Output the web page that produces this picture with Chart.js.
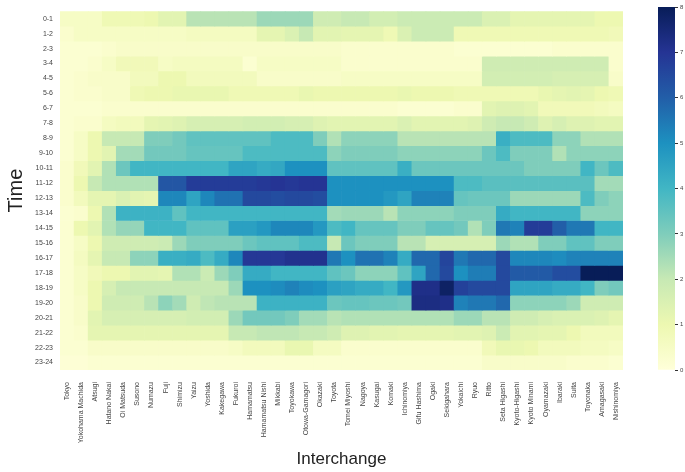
<!DOCTYPE html>
<html>
<head>
<meta charset="utf-8">
<script src="https://cdn.jsdelivr.net/npm/chart.js@4.4.1/dist/chart.umd.min.js"></script>
<style>
	body { margin: 0; background: #fff; }
	#wrap { position: relative; width: 685px; height: 472px; overflow: hidden; }
	#heat { position: absolute; left: 0; top: 0; }
	#bar { position: absolute; left: 640px; top: 0; }
</style>
</head>
<body>
<div id="wrap">
	<canvas id="heat" width="640" height="472"></canvas>
	<canvas id="bar" width="45" height="472"></canvas>
</div>
<script>
var interchanges = ['Tokyo', 'Yokohama Machida', 'Atsugi', 'Hatano Nakai', 'Oi Matsuda', 'Susono', 'Numazu', 'Fuji',
	'Shimizu', 'Yaizu', 'Yoshida', 'Kakegawa', 'Fukuroi', 'Hamamatsu', 'Hamamatsu Nishi', 'Mikkabi', 'Toyokawa',
	'Otowa-Gamagori', 'Okazaki', 'Toyota', 'Tomei Miyoshi', 'Nagoya', 'Kasugai', 'Komaki', 'Ichinomiya', 'Gifu Hashima',
	'Ogaki', 'Sekigahara', 'Yokaichi', 'Ryuo', 'Ritto', 'Seta Higashi', 'Kyoto-Higashi', 'Kyoto Minami', 'Oyamazaki',
	'Ibaraki', 'Suita', 'Toyonaka', 'Amagasaki', 'Nishinomiya'];

var timeSlots = ['0-1', '1-2', '2-3', '3-4', '4-5', '5-6', '6-7', '7-8', '8-9', '9-10', '10-11', '11-12',
	'12-13', '13-14', '14-15', '15-16', '16-17', '17-18', '18-19', '19-20', '20-21', '21-22', '22-23', '23-24'];

// one row per time slot, one value per interchange
var traffic = [
	[0.5,0.5,0.5,0.9,0.9,0.9,1.0,1.3,1.3,2.2,2.2,2.2,2.2,2.2,2.6,2.6,2.6,2.6,1.8,1.8, 2.0,2.0,1.7,1.7,1.9,1.9,1.9,1.9,1.9,1.9, 1.5,1.5,1.2,1.2,1.2,1.2,1.2,1.2,1.0,1.0],
	[0.3,0.5,0.5,0.5,0.5,0.5,0.5,0.5,0.5,0.6,0.6,0.6,0.6,0.6,1.2,1.2,1.5,2.0,1.3,1.3, 1.2,1.2,1.2,0.9,1.5,1.9,1.9,1.9,0.9,0.9, 0.9,0.9,0.9,0.9,0.9,0.9,0.9,0.9,0.9,0.8],
	[0.2,0.2,0.2,0.3,0.4,0.4,0.4,0.4,0.4,0.4,0.4,0.4,0.4,0.4,0.4,0.4,0.4,0.4,0.4,0.4, 0.3,0.3,0.3,0.3,0.3,0.3,0.3,0.3,0.2,0.2, 0.2,0.2,0.2,0.2,0.2,0.3,0.3,0.3,0.3,0.3],
	[0.2,0.2,0.3,0.5,0.8,0.8,0.8,0.5,0.6,0.6,0.6,0.6,0.6,0.2,0.5,0.5,0.5,0.5,0.5,0.5, 0.3,0.3,0.3,0.3,0.3,0.3,0.3,0.3,0.3,0.3, 1.8,1.8,1.8,1.8,1.8,1.8,1.8,1.8,1.8,0.3],
	[0.2,0.3,0.4,0.4,0.4,0.7,0.7,1.0,1.0,0.7,0.7,0.7,0.7,0.7,0.4,0.4,0.4,0.4,0.4,0.4, 0.5,0.5,0.5,0.5,0.5,0.5,0.5,0.5,0.5,0.5, 1.7,1.7,1.7,1.7,1.7,1.6,1.6,1.6,1.6,0.4],
	[0.2,0.3,0.3,0.4,0.4,0.9,1.0,1.0,1.1,1.1,1.1,1.1,0.9,0.9,0.9,0.9,0.9,1.1,1.0,1.0, 1.0,1.0,1.0,1.0,1.1,1.0,1.0,1.0,0.9,0.9, 0.9,0.9,0.9,0.9,1.1,1.2,1.3,1.2,1.0,0.9],
	[0.2,0.2,0.2,0.3,0.3,0.3,0.3,0.3,0.3,0.3,0.3,0.3,0.3,0.3,0.3,0.3,0.3,0.3,0.3,0.3, 0.3,0.3,0.3,0.3,0.2,0.2,0.2,0.2,0.3,0.3, 1.3,1.4,1.4,1.3,0.8,0.8,0.8,0.8,0.7,0.6],
	[0.2,0.3,0.3,0.6,0.7,0.7,1.2,1.3,1.4,1.6,1.6,1.6,1.6,1.7,1.7,1.7,1.6,1.6,1.4,1.3, 1.3,1.3,1.3,1.3,1.5,1.3,1.3,1.3,1.3,1.4, 1.8,2.0,2.0,1.8,1.4,1.6,1.4,1.4,1.3,1.3],
	[0.2,0.5,1.0,2.0,2.0,2.0,3.0,3.0,3.2,3.5,3.5,3.5,3.5,3.5,3.5,3.8,3.8,3.8,3.0,2.3, 2.8,2.8,2.8,2.8,2.2,2.2,2.2,2.2,2.2,2.2, 2.2,4.2,3.8,3.8,3.8,2.8,2.8,2.3,2.3,2.3],
	[0.2,0.5,1.0,1.3,2.5,2.5,3.2,3.2,3.2,3.4,3.4,3.4,3.4,3.8,3.8,3.8,3.8,3.8,3.8,2.8, 3.0,3.0,3.0,3.0,2.8,2.8,2.8,2.8,2.8,2.8, 3.3,3.8,3.0,3.0,3.0,2.3,2.8,2.8,2.8,2.8],
	[0.3,0.8,1.3,2.3,3.3,4.0,4.0,4.0,4.0,4.0,4.0,4.0,4.5,4.5,4.3,4.4,5.0,5.0,5.0,3.5, 3.5,3.5,3.5,3.5,4.2,3.3,3.3,3.3,3.3,3.3, 3.3,3.3,3.3,3.0,3.0,3.0,3.0,4.0,3.3,3.8],
	[0.3,1.0,2.0,2.3,2.3,2.3,2.3,6.2,6.2,6.8,6.8,6.8,6.8,6.8,6.9,7.0,6.9,7.0,7.0,5.0, 5.0,5.0,5.0,5.0,5.0,5.0,5.0,5.0,3.8,3.8, 3.6,3.6,3.6,3.6,3.6,3.6,3.6,3.6,2.5,2.5],
	[0.3,0.7,1.2,1.2,1.5,1.3,1.2,5.2,5.2,4.5,5.2,5.6,5.6,6.5,6.5,6.4,6.5,6.5,6.4,5.0, 5.0,5.0,5.0,4.8,4.5,5.3,5.3,5.3,3.4,3.3, 3.3,3.3,2.6,2.6,2.6,2.6,2.6,3.8,3.0,2.8],
	[0.2,0.3,1.0,2.3,4.1,4.1,4.1,4.1,3.5,4.0,4.0,4.0,4.0,4.0,4.0,4.0,4.0,4.0,4.0,2.5, 2.6,2.6,2.6,2.2,2.8,2.8,2.8,2.8,3.0,3.0, 3.0,4.3,4.0,4.0,4.0,4.0,4.0,2.8,2.8,2.8],
	[0.2,1.0,1.3,2.3,2.7,2.7,4.0,4.0,4.0,3.5,3.5,3.5,4.6,4.6,4.8,5.2,5.2,5.2,4.8,3.8, 4.0,3.4,3.4,3.4,3.0,3.0,3.4,3.4,3.2,2.3, 3.0,5.5,5.3,6.8,6.8,6.0,5.5,5.5,4.0,4.0],
	[0.2,0.5,1.0,1.8,1.8,1.8,1.8,1.9,2.6,3.0,3.0,3.0,3.0,3.3,3.5,3.5,3.5,3.8,3.8,2.0, 3.3,3.0,3.0,3.0,2.2,2.2,1.6,1.6,1.6,1.6, 1.6,2.6,2.3,2.3,3.0,3.0,3.5,3.5,3.0,3.0],
	[0.2,0.6,1.2,2.0,2.0,2.8,2.8,4.2,4.2,4.3,3.8,4.3,5.2,6.9,6.9,6.9,7.1,7.1,7.1,5.5, 5.0,5.6,5.6,5.3,4.3,5.8,5.8,6.6,5.5,5.8, 5.8,6.5,5.2,5.2,5.2,5.1,5.3,5.3,5.3,5.3],
	[0.2,0.5,0.8,1.0,1.0,1.3,1.3,1.2,2.3,2.3,1.9,2.6,3.0,4.3,4.3,4.0,4.0,4.0,4.0,3.5, 3.3,2.8,2.8,2.8,3.5,4.5,5.8,6.5,5.0,5.4, 5.4,6.5,6.1,6.1,6.1,6.4,6.4,8.0,8.0,8.0],
	[0.2,0.5,1.0,1.6,2.0,2.0,2.0,2.0,2.0,2.0,2.0,2.0,2.6,5.0,5.0,5.1,5.3,5.1,5.0,4.6, 4.5,4.3,4.3,4.0,4.8,7.2,7.2,7.8,6.7,6.5, 6.5,6.5,4.5,4.5,4.5,4.3,4.3,4.0,3.0,3.2],
	[0.2,0.4,1.0,1.8,1.8,1.8,2.2,2.8,2.5,1.8,2.1,2.2,2.2,2.2,4.1,4.1,4.1,4.1,4.1,3.3, 3.4,3.4,3.3,3.3,3.2,7.3,7.3,7.2,5.3,5.5, 5.5,5.8,2.8,2.8,2.8,2.8,2.6,1.8,1.8,1.8],
	[0.2,0.4,1.3,1.6,1.6,1.6,1.6,1.6,1.6,1.7,1.7,1.7,2.6,3.2,3.2,3.2,3.0,2.5,2.5,2.2, 2.3,2.3,2.3,2.3,2.3,2.3,2.3,2.3,2.6,2.6, 2.2,2.2,1.8,1.8,1.6,1.5,1.5,1.5,1.4,1.2],
	[0.2,0.3,1.2,1.2,1.2,1.2,1.2,1.2,1.2,1.2,1.2,1.2,2.0,2.0,2.1,2.1,2.1,2.0,2.0,1.8, 1.4,1.4,1.3,1.3,1.2,1.2,1.2,1.2,1.3,1.3, 1.4,1.9,1.3,1.3,1.2,1.2,1.0,0.7,0.7,0.7],
	[0.2,0.2,0.4,0.4,0.4,0.4,0.4,0.4,0.4,0.4,0.4,0.4,0.5,0.7,0.7,0.7,1.1,1.1,0.6,0.6, 0.3,0.3,0.3,0.3,0.3,0.3,0.3,0.3,0.3,0.3, 0.8,1.1,1.1,1.0,0.7,0.7,0.7,0.6,0.6,0.5],
	[0.1,0.1,0.2,0.2,0.2,0.2,0.2,0.2,0.2,0.2,0.2,0.2,0.2,0.2,0.2,0.2,0.2,0.2,0.2,0.2, 0.2,0.2,0.2,0.2,0.2,0.2,0.2,0.2,0.2,0.2, 0.4,0.4,0.4,0.4,0.4,0.4,0.3,0.3,0.3,0.2]
];

var colorbarTicks = [0, 1, 2, 3, 4, 5, 6, 7, 8];
var vmax = 8;

// YlGnBu stops, light to dark
var palette = [[255,255,217],[237,248,177],[199,233,180],[127,205,187],[65,182,196],[29,145,192],[34,94,168],[37,52,148],[8,29,88]];

function cellColor(v) {
	var t = Math.max(0, Math.min(vmax, v)) / vmax * (palette.length - 1);
	var i = Math.min(Math.floor(t), palette.length - 2);
	var f = t - i;
	var c = palette[i].map(function(a, k) {
		return Math.round(a + (palette[i + 1][k] - a) * f);
	});
	return 'rgb(' + c.join(',') + ')';
}

Chart.defaults.font.family = '"Liberation Sans", Arial, sans-serif';

// each time slot is a row of floating bars [j, j+1]
var datasets = timeSlots.map(function(slot, j) {
	return {
		label: slot,
		data: interchanges.map(function() { return [j, j + 1]; }),
		backgroundColor: traffic[j].map(cellColor),
		borderWidth: 0,
		barPercentage: 1,
		categoryPercentage: 1,
		grouped: false
	};
});

new Chart(document.getElementById('heat'), {
	type: 'bar',
	data: { labels: interchanges, datasets: datasets },
	options: {
		responsive: false,
		animation: false,
		layout: { padding: { top: 7, right: 17, left: 0, bottom: 0 } },
		plugins: { legend: { display: false }, tooltip: { enabled: false } },
		scales: {
			x: {
				grid: { display: false },
				border: { display: false },
				ticks: { autoSkip: false, minRotation: 90, maxRotation: 90, padding: 4, color: '#444', font: { size: 7 } },
				title: { display: true, text: 'Interchange', color: '#222', font: { size: 17 }, padding: { top: 0, bottom: 2 } },
				afterFit: function(scale) { scale.height = 102; }
			},
			y: {
				min: 0,
				max: 24,
				reverse: true,
				grid: { display: false, drawTicks: false },
				border: { display: false },
				afterBuildTicks: function(scale) {
					scale.ticks = timeSlots.map(function(t, i) { return { value: i + 0.5 }; });
				},
				ticks: {
					autoSkip: false,
					padding: 7,
					color: '#444',
					font: { size: 7 },
					callback: function(v) { return timeSlots[Math.floor(v)]; }
				},
				title: { display: true, text: 'Time', color: '#222', font: { size: 20 }, padding: { top: 4, bottom: 0 } },
				afterFit: function(scale) { scale.width = 60; }
			}
		}
	}
});

// colour bar
new Chart(document.getElementById('bar'), {
	type: 'bar',
	data: {
		labels: [''],
		datasets: [{
			data: [[0, vmax]],
			borderWidth: 0,
			barPercentage: 1,
			categoryPercentage: 1,
			backgroundColor: function(ctx) {
				var area = ctx.chart.chartArea;
				if (!area) return 'rgb(65,182,196)';
				var g = ctx.chart.ctx.createLinearGradient(0, area.bottom, 0, area.top);
				palette.forEach(function(c, i) {
					g.addColorStop(i / (palette.length - 1), 'rgb(' + c.join(',') + ')');
				});
				return g;
			}
		}]
	},
	options: {
		responsive: false,
		animation: false,
		layout: { padding: { top: 7, right: 0, left: 18, bottom: 102 } },
		plugins: { legend: { display: false }, tooltip: { enabled: false } },
		scales: {
			x: { display: false },
			y: {
				position: 'right',
				min: 0,
				max: vmax,
				afterBuildTicks: function(scale) {
					scale.ticks = colorbarTicks.map(function(v) { return { value: v }; });
				},
				grid: { drawOnChartArea: false, drawTicks: true, tickLength: 3, color: '#333' },
				border: { display: false },
				ticks: { padding: 2, color: '#444', font: { size: 6 } },
				afterFit: function(scale) { scale.width = 10; }
			}
		}
	}
});
</script>
</body>
</html>
